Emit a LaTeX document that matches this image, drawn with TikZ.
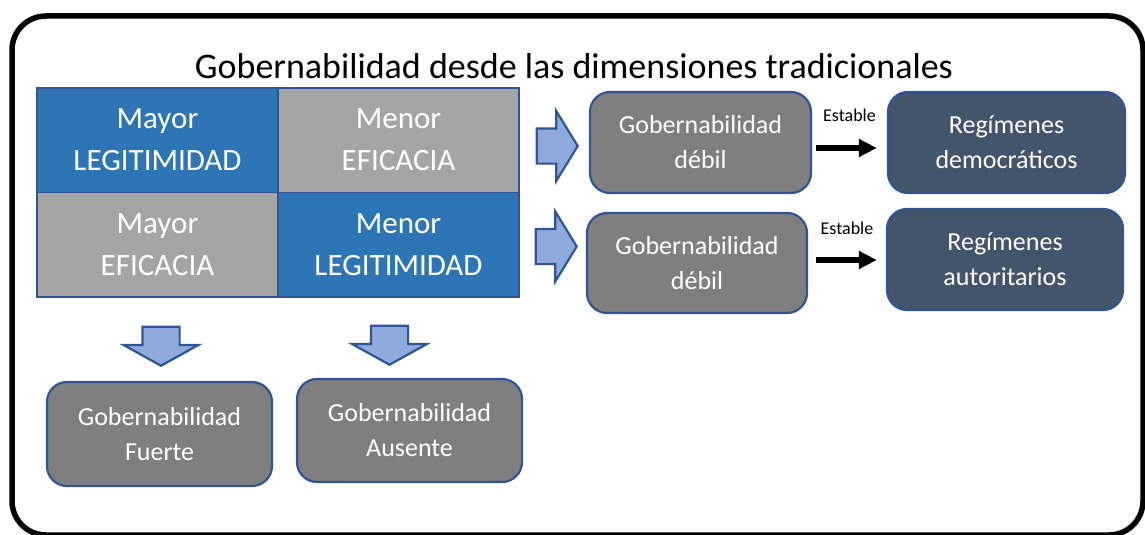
\documentclass[tikz,border=0pt]{standalone}
\usepackage{fontspec}
\setmainfont{Carlito}
\usetikzlibrary{shapes.arrows, arrows.meta}
\definecolor{cellblue}{HTML}{2E75B6}
\definecolor{cellgray}{HTML}{A5A5A5}
\definecolor{edgeblue}{HTML}{2F5597}
\definecolor{arrowfill}{HTML}{8FAADC}
\definecolor{boxgray}{HTML}{7F7F7F}
\definecolor{regslate}{HTML}{44546A}

\begin{document}
\begin{tikzpicture}[x=1pt, y=-1pt,
  cell/.style={draw=edgeblue, line width=1.5pt, minimum width=241pt, minimum height=104.5pt, inner sep=0pt, text=white, align=center, font=\fontsize{31}{42}\selectfont},
  govbox/.style={draw=edgeblue, line width=2.2pt, fill=boxgray, rounded corners=20pt, inner sep=0pt, text=white, align=center, font=\fontsize{26}{35}\selectfont},
  regbox/.style={govbox, fill=regslate},
  blockarrow/.style={single arrow, draw=edgeblue, fill=arrowfill, line width=2.2pt, inner xsep=0pt, single arrow head indent=0pt},
  estarrow/.style={line width=6pt, -{Triangle[length=18pt, width=17pt]}},
  estlabel/.style={inner sep=0pt, font=\fontsize{18}{22}\selectfont}]
\useasboundingbox (0,0) rectangle (1145,535);
\draw[line width=5.5pt, rounded corners=34pt] (12,16) rectangle (1143,535);
\node[anchor=base, font=\fontsize{36}{40}\selectfont] (title) at (574,78) {Gobernabilidad desde las dimensiones tradicionales};

% matriz legitimidad / eficacia
\node[cell, fill=cellblue] (mayleg) at (157.5,140) {Mayor\\LEGITIMIDAD};
\node[cell, fill=cellgray] (meneff) at (398.5,140) {Menor\\EFICACIA};
\node[cell, fill=cellgray] (mayeff) at (157.5,244.5) {Mayor\\EFICACIA};
\node[cell, fill=cellblue] (menleg) at (398.5,244.5) {Menor\\LEGITIMIDAD};

\node[blockarrow, anchor=tip, inner ysep=16.5pt, minimum height=41pt, minimum width=68pt, single arrow head extend=17.5pt, single arrow tip angle=117] (arrA) at (579,146) {};
\node[blockarrow, anchor=tip, inner ysep=16.5pt, minimum height=41pt, minimum width=68pt, single arrow head extend=17.5pt, single arrow tip angle=117] (arrB) at (578,246.5) {};
\node[blockarrow, anchor=tip, rotate=-90, inner ysep=17.5pt, minimum height=39pt, minimum width=73pt, single arrow head extend=19pt, single arrow tip angle=122] (arrC) at (161,367) {};
\node[blockarrow, anchor=tip, rotate=-90, inner ysep=17.5pt, minimum height=39pt, minimum width=73pt, single arrow head extend=19pt, single arrow tip angle=122] (arrD) at (389.5,366) {};

\node[govbox, minimum width=221pt, minimum height=101pt] (weak1) at (700.5,142.5) {Gobernabilidad\\débil};
\node[govbox, minimum width=220pt, minimum height=100pt] (weak2) at (697,263) {Gobernabilidad\\débil};
\node[regbox, minimum width=237pt, minimum height=101pt] (reg1) at (1006.5,142.5) {Regímenes\\democráticos};
\node[regbox, minimum width=236pt, minimum height=101pt] (reg2) at (1005,259.5) {Regímenes\\autoritarios};
\node[govbox, minimum width=225pt, minimum height=104pt] (strong) at (159.5,434) {Gobernabilidad\\Fuerte};
\node[govbox, minimum width=225pt, minimum height=103pt] (absent) at (409.5,430.5) {Gobernabilidad\\Ausente};

\coordinate (s1) at ([yshift=-5.5pt]weak1.east);
\coordinate (s2) at ([yshift=3pt]weak2.east);
\draw[estarrow, shorten <=4pt, shorten >=10pt] (s1) -- node[estlabel, above=23pt]{Estable} (s1 -| reg1.west);
\draw[estarrow, shorten <=8pt, shorten >=9pt] (s2) -- node[estlabel, above=22pt]{Estable} (s2 -| reg2.west);

\end{tikzpicture}
\end{document}
